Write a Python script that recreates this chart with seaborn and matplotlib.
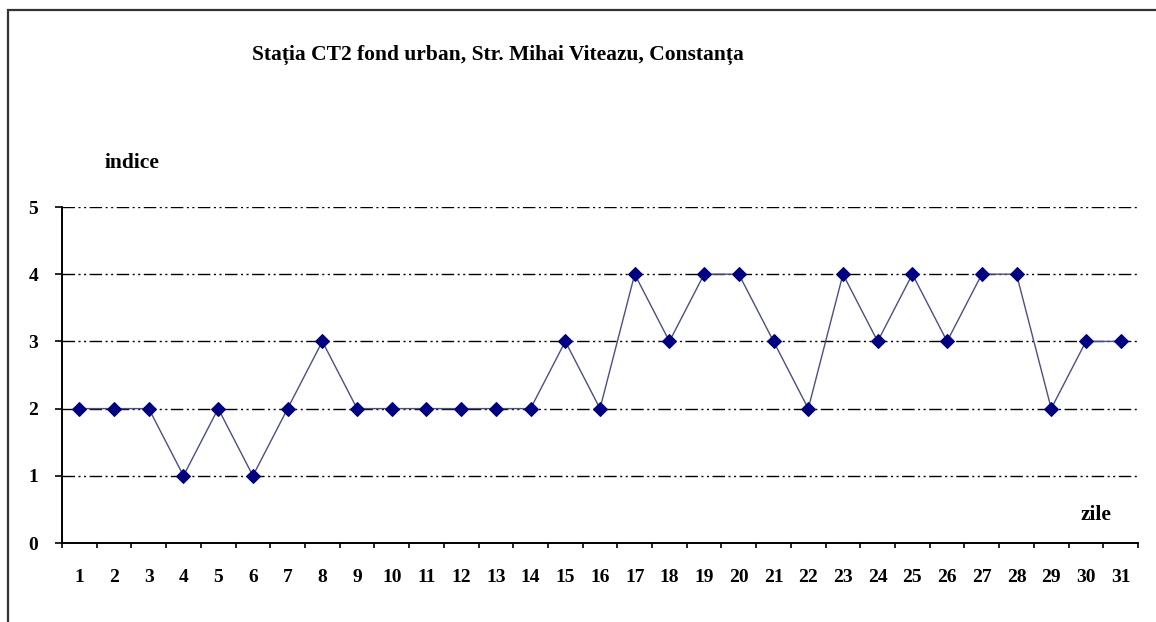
import matplotlib
matplotlib.use("Agg")
import matplotlib.pyplot as plt
import seaborn as sns
import pandas as pd
from matplotlib.patches import Rectangle

# Data
days = list(range(1, 32))
indice = [2, 2, 2, 1, 2, 1, 2, 3, 2, 2, 2, 2, 2, 2, 3, 2,
          4, 3, 4, 4, 3, 2, 4, 3, 4, 3, 4, 4, 2, 3, 3]
y_ticks = [0, 1, 2, 3, 4, 5]

title = "Stația CT2 fond urban, Str. Mihai Viteazu, Constanța"

df = pd.DataFrame({"zi": days, "indice": indice})

sns.set_style("white")
plt.rcParams['font.family'] = ['Liberation Serif', 'DejaVu Serif']
plt.rcParams['font.weight'] = 'bold'
plt.rcParams['text.color'] = 'black'
plt.rcParams['xtick.color'] = 'black'
plt.rcParams['ytick.color'] = 'black'

fig = plt.figure(figsize=(11.56, 6.22), dpi=100)
W, H = 1156, 622
ax = fig.add_axes([62 / W, 1 - 543 / H, (1138 - 62) / W, (543 - 207) / H])

# outer frame (left/top visible, right/bottom cut off)
fig.patches.append(Rectangle((8 / W, -0.05), 1.2, 1 - 10 / H + 0.05,
                             transform=fig.transFigure, fill=False,
                             edgecolor="#333333", linewidth=1.6))

# dash-dot-dot gridlines
for v in y_ticks[1:]:
    ax.axhline(v, color="black", linewidth=1.0,
               dashes=(9, 2.5, 1.5, 2.5, 1.5, 2.5), zorder=1)

sns.lineplot(data=df, x="zi", y="indice", ax=ax, color="#4b4f86",
             linewidth=1.0, marker="D", markersize=7.5,
             markerfacecolor="#000080", markeredgecolor="#000080", zorder=3)

ax.set_xlim(0.5, 31.5)
ax.set_ylim(0, 5)
ax.set_xticks(days)
ax.set_xticklabels([str(d) for d in days], fontsize=14, fontweight="bold")
ax.set_xticks([d + 0.5 for d in range(0, 32)], minor=True)
ax.tick_params(axis="x", which="major", bottom=True, length=0, pad=19)
ax.tick_params(axis="x", which="minor", bottom=True, length=3.5, width=1.2,
               direction="out", color="black")
ax.set_yticks(y_ticks)
ax.set_yticklabels([str(v) for v in y_ticks], fontsize=14, fontweight="bold")
ax.tick_params(axis="y", left=True, length=5, width=1.2, direction="out",
               color="black", pad=12)

for s in ["top", "right"]:
    ax.spines[s].set_visible(False)
for s in ["left", "bottom"]:
    ax.spines[s].set_color("black")
    ax.spines[s].set_linewidth(1.4)

ax.set_xlabel("")
ax.set_ylabel("")
ax.grid(False)

fig.text(498 / W, 1 - 55 / H, title, ha="center", va="center",
         fontsize=15.5, fontweight="bold")
fig.text(132 / W, 1 - 163 / H, "indice", ha="center", va="center",
         fontsize=15.5, fontweight="bold")
fig.text(1096 / W, 1 - 515 / H, "zile", ha="center", va="center",
         fontsize=15.5, fontweight="bold")

fig.savefig("out.png", dpi=100)
